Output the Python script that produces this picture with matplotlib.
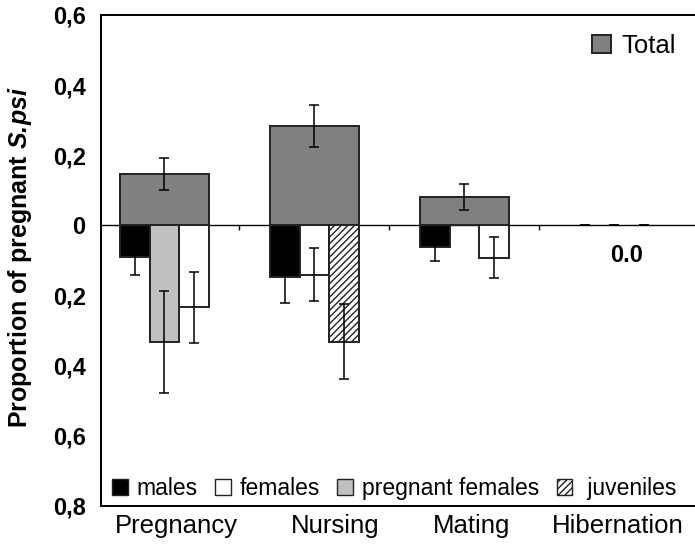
import numpy as np
import matplotlib
matplotlib.use("Agg")
import matplotlib.pyplot as plt
from matplotlib.patches import Patch

plt.rcParams["font.family"] = ["Liberation Sans", "DejaVu Sans"]
plt.rcParams["mathtext.fontset"] = "custom"
plt.rcParams["mathtext.rm"] = "Liberation Sans"
plt.rcParams["mathtext.bf"] = "Liberation Sans:bold"
plt.rcParams["mathtext.bfit"] = "Liberation Sans:italic:bold"
plt.rcParams["hatch.linewidth"] = 1.0

# ================== DATA ==================
groups = ["Pregnancy", "Nursing", "Mating", "Hibernation"]
label_pos = [0.08, 1.14, 2.05, 3.02]

total = [0.146, 0.283, 0.082, 0.0]
total_err = [0.045, 0.060, 0.037, 0.0]

males = [0.091, 0.148, 0.061, 0.0]
males_err = [0.050, 0.072, 0.040, 0.0]

females = [0.234, 0.140, 0.092, 0.0]
females_err = [0.100, 0.075, 0.058, 0.0]
females_slot = [1, 0, 1, 1]

pregnant = [0.332, np.nan, np.nan, np.nan]
pregnant_err = [0.145, np.nan, np.nan, np.nan]

juveniles = [np.nan, 0.332, np.nan, np.nan]
juveniles_err = [np.nan, 0.107, np.nan, np.nan]

yticks = [-0.8, -0.6, -0.4, -0.2, 0.0, 0.2, 0.4, 0.6]

# ================== STYLE ==================
TOTAL_W = 0.593
SUB_W = TOTAL_W / 3
EDGE = "#222222"
ERR_KW = dict(fmt="none", ecolor="black", elinewidth=1.1, capsize=3.5, capthick=1.1, zorder=4)

fig = plt.figure(figsize=(6.95, 5.45), dpi=100)
ax = fig.add_axes([0.1453, 0.0716, 0.8547, 0.9009])

x = np.arange(len(groups))


def draw(xs, vals, errs, width, color, hatch=None):
    v = np.asarray(vals, dtype=float)
    e = np.asarray(errs, dtype=float)
    ok = ~np.isnan(v)
    nz = ok & (v != 0)
    ax.bar(xs[nz], v[nz], width, color=color, edgecolor=EDGE, linewidth=1.4,
           hatch=hatch, zorder=3)
    ax.errorbar(xs[ok], v[ok], yerr=e[ok], **ERR_KW)


# Total (upward)
draw(x, total, total_err, TOTAL_W, "#808080")

# Sub-groups (downward)
def sub_bars(vals, errs, slots, color, hatch=None):
    xs = x + np.asarray(slots, dtype=float) * SUB_W
    draw(xs, -np.asarray(vals, dtype=float), errs, SUB_W, color, hatch)

sub_bars(males, males_err, [-1] * 4, "black")
sub_bars(females, females_err, females_slot, "white")
sub_bars(pregnant, pregnant_err, [0] * 4, "#C0C0C0")
sub_bars(juveniles, juveniles_err, [1] * 4, "white", hatch="/////")

# zero line and little category separators
ax.axhline(0, color="black", linewidth=1.0, zorder=2)
bounds = (x[:-1] + x[1:]) / 2
ax.vlines(bounds, -0.012, 0, color="black", linewidth=1.0)

# Hibernation value label
ax.text(x[3] + 0.08, -0.087, f"{total[3]:.1f}", fontsize=17, fontweight="bold",
        ha="center", va="center")

# axes
ax.set_xlim(-0.423, 3.537)
ax.set_ylim(-0.8, 0.6)
ax.set_xticks(label_pos)
ax.set_xticklabels(groups, fontsize=18.5)
ax.tick_params(axis="x", length=0, pad=6)
ax.set_yticks(yticks)
ax.set_yticklabels(["0" if abs(t) < 1e-9 else f"{abs(t):.1f}".replace(".", ",") for t in yticks],
                   fontsize=17, fontweight="bold")
ax.tick_params(axis="y", which="major", length=0, pad=11)
ax.set_yticks([-0.8, 0.0, 0.6], minor=True)
ax.tick_params(axis="y", which="minor", length=4, width=1.2, direction="out")
for side in ["left", "top", "bottom"]:
    ax.spines[side].set_linewidth(1.4)
ax.spines["right"].set_visible(False)

ax.set_ylabel(r"Proportion of pregnant $\mathbfit{S.\!psi}$", fontsize=18, fontweight="bold")
ax.yaxis.set_label_coords(-0.112, 0.508)

# legends
leg_total = ax.legend([Patch(facecolor="#808080", edgecolor=EDGE, linewidth=1.4)], ["Total"],
                      loc="upper left", bbox_to_anchor=(0.826, 0.962), frameon=False,
                      fontsize=18.5, handlelength=0.75, handleheight=0.7, handletextpad=0.4,
                      borderpad=0, borderaxespad=0)
ax.add_artist(leg_total)

handles = [
    Patch(facecolor="black", edgecolor=EDGE),
    Patch(facecolor="white", edgecolor=EDGE),
    Patch(facecolor="#C0C0C0", edgecolor=EDGE),
    Patch(facecolor="white", edgecolor=EDGE, hatch="/////"),
]
ax.legend(handles, ["males", "females", "pregnant females", " juveniles"],
          loc="lower left", bbox_to_anchor=(0.0185, 0.012), ncol=4, frameon=False,
          fontsize=16.5, handlelength=0.68, handleheight=0.68, handletextpad=0.4,
          columnspacing=0.75, borderpad=0, borderaxespad=0)

fig.savefig("out.png", dpi=100)
